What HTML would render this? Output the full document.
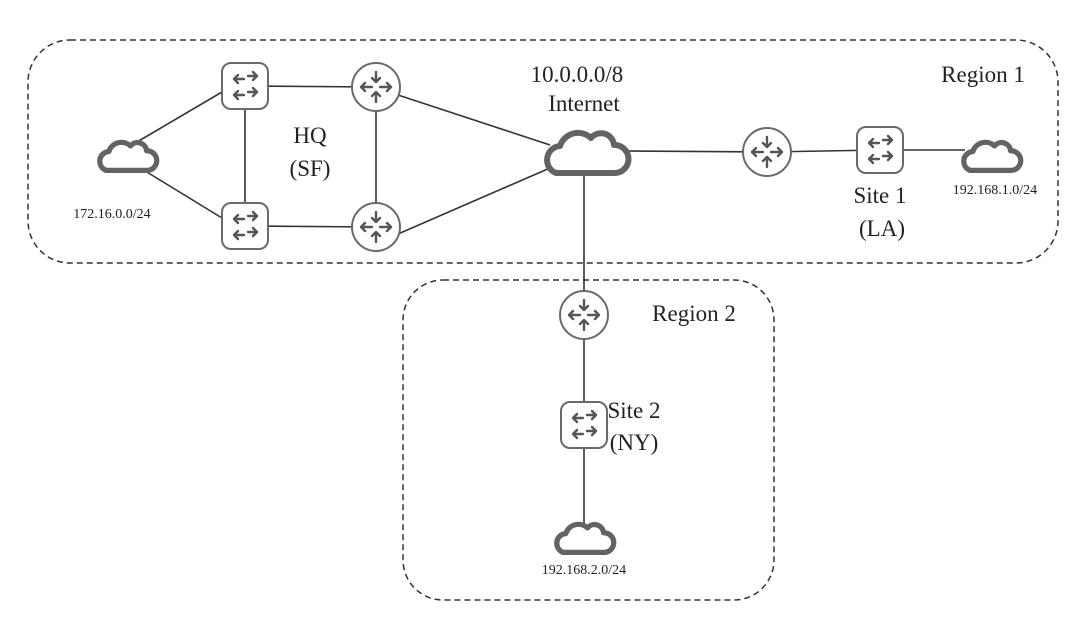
<!DOCTYPE html>
<html><head><meta charset="utf-8"><style>
html,body{margin:0;padding:0;background:#fff;}
svg{display:block;}
text{font-family:"Liberation Serif",serif;fill:#222;}
</style></head><body>
<svg width="1088" height="639" viewBox="0 0 1088 639" xmlns="http://www.w3.org/2000/svg">
<defs>
<g id="sw">
  <rect x="-23" y="-23" width="46" height="46" rx="9" fill="#fff" stroke="#6a6a6e" stroke-width="2"/>
  <g stroke="#555" stroke-width="2.4" fill="none" stroke-linecap="round" stroke-linejoin="round">
    <path d="M-11,-7 H-1 M-7,-11 L-11,-7 L-7,-3"/>
    <path d="M3,-10 H12 M8,-14 L12,-10 L8,-6"/>
    <path d="M-11,9 H-1 M-7,5 L-11,9 L-7,13"/>
    <path d="M3,6 H12 M8,2 L12,6 L8,10"/>
  </g>
</g>
<g id="rt">
  <circle r="24" fill="#fff" stroke="#6a6a6e" stroke-width="2"/>
  <g stroke="#555" stroke-width="2.4" fill="none" stroke-linecap="round" stroke-linejoin="round">
    <path d="M0,-15 V-5 M-4,-9 L0,-5 L4,-9"/>
    <path d="M0,15 V5 M-4,9 L0,5 L4,9"/>
    <path d="M-4,0 H-15 M-11,-4 L-15,0 L-11,4"/>
    <path d="M4,0 H15 M11,-4 L15,0 L11,4"/>
  </g>
</g>
<path id="cl" d="M-30,22 H29 A14 14 0 0 0 28,-6 A13 13 0 0 0 5,-13 A19 19 0 0 0 -26,-5 A14 14 0 0 0 -30,22 Z" fill="#fff" stroke="#636366" stroke-linejoin="round"/>
</defs>

<rect x="28" y="40" width="1030" height="223" rx="42" fill="none" stroke="#333" stroke-width="1.5" stroke-dasharray="6,4"/>
<rect x="403" y="280" width="371" height="320" rx="40" fill="none" stroke="#333" stroke-width="1.5" stroke-dasharray="6,4"/>

<g stroke="#333" stroke-width="1.6">
  <line x1="137" y1="142" x2="222" y2="92"/>
  <line x1="137" y1="166" x2="222" y2="218"/>
  <line x1="245" y1="86" x2="245" y2="226"/>
  <line x1="245" y1="86" x2="376" y2="87"/>
  <line x1="245" y1="226" x2="376" y2="227"/>
  <line x1="376" y1="87" x2="376" y2="227"/>
  <line x1="398" y1="95" x2="550" y2="145"/>
  <line x1="398" y1="234" x2="550" y2="168"/>
  <line x1="625" y1="151" x2="767" y2="152"/>
  <line x1="767" y1="152" x2="880" y2="150"/>
  <line x1="880" y1="150" x2="965" y2="150"/>
  <line x1="584" y1="170" x2="584" y2="315"/>
  <line x1="584" y1="315" x2="584" y2="537"/>
</g>

<use href="#sw" x="245" y="86"/>
<use href="#sw" x="245" y="226"/>
<use href="#rt" x="376" y="87"/>
<use href="#rt" x="376" y="227"/>
<use href="#rt" x="767" y="152"/>
<use href="#sw" x="880" y="150"/>
<use href="#rt" x="584" y="315"/>
<use href="#sw" x="584" y="425"/>

<use href="#cl" transform="translate(586,151) scale(1.0)" stroke-width="6"/>
<use href="#cl" transform="translate(127,155) scale(0.7)" stroke-width="7.5"/>
<use href="#cl" transform="translate(991,155) scale(0.7)" stroke-width="7.5"/>
<use href="#cl" transform="translate(584,537) scale(0.7)" stroke-width="7.5"/>

<g text-anchor="middle">
  <text x="577" y="82" font-size="23">10.0.0.0/8</text>
  <text x="584" y="111" font-size="23">Internet</text>
  <text x="310" y="143" font-size="23">HQ</text>
  <text x="310" y="176" font-size="23">(SF)</text>
  <text x="112" y="218" font-size="14">172.16.0.0/24</text>
  <text x="983" y="82" font-size="23">Region 1</text>
  <text x="880" y="203" font-size="23">Site 1</text>
  <text x="882" y="236" font-size="23">(LA)</text>
  <text x="995" y="194" font-size="14">192.168.1.0/24</text>
  <text x="694" y="321" font-size="23">Region 2</text>
  <text x="634" y="418" font-size="23">Site 2</text>
  <text x="634" y="450" font-size="23">(NY)</text>
  <text x="584" y="574" font-size="14">192.168.2.0/24</text>
</g>
</svg>
</body></html>
